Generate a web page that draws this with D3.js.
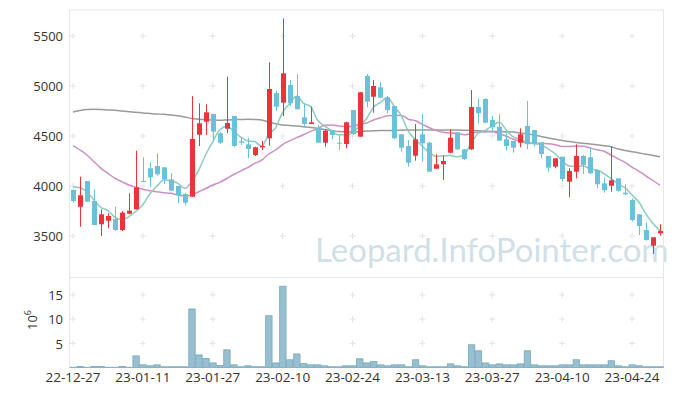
<!DOCTYPE html>
<html>
<head>
<meta charset="utf-8">
<script src="https://cdn.jsdelivr.net/npm/d3@7"></script>
<style>
  body { margin: 0; background: #fff; }
  text { font-family: "Open Sans", "DejaVu Sans", sans-serif; }
  text.watermark { font-family: Lato, "Open Sans", sans-serif; }
</style>
</head>
<body>
<div id="chart"></div>
<script>
// trading days (KRX)
var dates = ["22-12-27","22-12-28","22-12-29","23-01-02","23-01-03","23-01-04","23-01-05","23-01-06","23-01-09","23-01-10",
  "23-01-11","23-01-12","23-01-13","23-01-16","23-01-17","23-01-18","23-01-19","23-01-20","23-01-25","23-01-26",
  "23-01-27","23-01-30","23-01-31","23-02-01","23-02-02","23-02-03","23-02-06","23-02-07","23-02-08","23-02-09",
  "23-02-10","23-02-13","23-02-14","23-02-15","23-02-16","23-02-17","23-02-20","23-02-21","23-02-22","23-02-23",
  "23-02-24","23-02-27","23-02-28","23-03-02","23-03-03","23-03-06","23-03-07","23-03-08","23-03-09","23-03-10",
  "23-03-13","23-03-14","23-03-15","23-03-16","23-03-17","23-03-20","23-03-21","23-03-22","23-03-23","23-03-24",
  "23-03-27","23-03-28","23-03-29","23-03-30","23-03-31","23-04-03","23-04-04","23-04-05","23-04-06","23-04-07",
  "23-04-10","23-04-11","23-04-12","23-04-13","23-04-14","23-04-17","23-04-18","23-04-19","23-04-20","23-04-21",
  "23-04-24","23-04-25","23-04-26","23-04-27","23-04-28"];

var opens = [3960,3793,4050,3850,3617,3653,3670,3560,3723,3767,4050,4177,4200,4187,4067,4000,3920,3893,4513,4643,
  4720,4527,4573,4700,4447,4417,4310,4387,4477,4930,4833,5010,4900,4687,4620,4577,4433,4553,4433,4420,
  4760,4493,5100,4893,4987,4887,4800,4517,4400,4303,4517,4433,4173,4217,4333,4537,4367,4367,4790,4870,
  4660,4593,4467,4450,4433,4600,4560,4437,4300,4193,4293,4043,4143,4300,4287,4160,4027,4003,4077,3933,
  3860,3717,3560,3403,3527];
var highs = [3967,4093,4050,3967,3767,3727,3793,3750,3927,4353,4287,4237,4327,4187,4127,4000,3933,4900,4827,4817,
  4720,4543,5093,4700,4483,4483,4393,4450,5237,4953,5677,5060,5120,4827,4793,4610,4567,4560,4510,4643,
  4760,4937,5120,5060,5037,4900,4800,4517,4460,4620,4720,4443,4317,4303,4567,4537,4367,4960,4873,4877,
  4700,4717,4550,4450,4577,4850,4560,4437,4300,4277,4293,4177,4417,4310,4377,4160,4083,4393,4077,4017,
  3877,3717,3637,3487,3617];
var lows = [3833,3593,3843,3610,3500,3577,3550,3550,3717,3767,4040,3987,4103,4020,3953,3827,3807,3893,4400,4510,
  4460,4420,4527,4387,4410,4277,4300,4360,4403,4750,4700,4800,4767,4583,4620,4433,4393,4467,4360,4377,
  4510,4493,4787,4733,4877,4727,4467,4343,4193,4253,4243,4143,4173,4060,4327,4360,4260,4360,4627,4627,
  4533,4453,4353,4333,4387,4367,4393,4277,4143,4177,4043,3887,4077,4120,4120,3977,3933,3943,3943,3910,
  3643,3510,3453,3320,3503];
var closes = [3850,3907,3843,3610,3717,3700,3560,3733,3753,3987,4040,4087,4117,4067,3953,3910,3833,4470,4627,4737,
  4543,4433,4630,4400,4433,4370,4387,4400,4970,4793,5127,4827,4767,4620,4637,4433,4553,4510,4427,4637,
  4520,4937,4843,5000,4883,4760,4477,4383,4233,4467,4427,4143,4217,4250,4483,4367,4270,4790,4727,4633,
  4587,4453,4400,4383,4517,4417,4417,4320,4183,4277,4070,4150,4300,4210,4127,4017,3960,4057,3953,3917,
  3660,3600,3460,3487,3550];

// volume, millions of shares
var volumes = [0.05,0.2,0.05,0.2,0.2,0.05,0.05,0.2,0.05,2.4,0.55,0.35,0.55,0.15,0.15,0.15,0.15,12.1,2.6,1.85,
  0.95,0.4,3.65,0.55,0.15,0.35,0.15,0.15,10.7,0.95,16.8,1.6,2.8,0.8,0.55,0.55,0.35,0.15,0.15,0.35,
  0.35,1.8,0.95,1.25,0.55,0.35,0.55,0.55,0.15,1.6,0.35,0.15,0.15,0.15,0.75,0.35,0.15,4.7,3.45,0.95,
  0.55,0.75,0.55,0.55,0.75,3.45,0.55,0.35,0.35,0.35,0.55,0.55,1.6,0.55,0.55,0.55,0.55,1.4,0.35,0.15,
  0.55,0.35,0.15,0.15,0.15];

// moving averages as drawn
var ma5 = [3993,3983,3943,3860,3785,3755,3686,3664,3693,3747,3815,3920,3997,4060,4053,4027,3976,4047,4159,4315,
  4442,4562,4594,4549,4488,4453,4444,4398,4512,4584,4735,4823,4897,4827,4796,4657,4602,4551,4512,4512,
  4529,4606,4673,4787,4837,4885,4793,4701,4547,4464,4397,4331,4297,4301,4304,4292,4317,4432,4527,4557,
  4601,4638,4560,4491,4468,4434,4427,4411,4371,4323,4253,4200,4196,4201,4171,4161,4123,4074,4023,3981,
  3909,3837,3718,3625,3551];
var ma20 = [4403,4360,4310,4243,4177,4127,4077,4043,4010,3987,3967,3953,3943,3933,3927,3910,3900,3910,3943,3975,
  4010,4036,4075,4115,4151,4184,4226,4259,4320,4360,4414,4451,4484,4512,4546,4572,4608,4610,4600,4595,
  4594,4619,4630,4660,4682,4702,4706,4705,4668,4652,4617,4583,4555,4537,4529,4526,4512,4526,4541,4541,
  4544,4520,4498,4467,4448,4431,4428,4425,4423,4413,4395,4396,4400,4398,4380,4362,4347,4310,4272,4236,
  4189,4147,4100,4055,4007];
var ma60 = [4740,4755,4765,4768,4765,4760,4757,4750,4743,4738,4730,4725,4720,4717,4710,4703,4690,4675,4668,4663,
  4660,4657,4660,4663,4665,4667,4665,4660,4640,4622,4610,4605,4600,4593,4585,4577,4565,4555,4545,4543,
  4540,4545,4550,4553,4555,4555,4557,4558,4560,4560,4560,4560,4560,4560,4560,4560,4558,4555,4552,4548,
  4545,4545,4543,4540,4530,4520,4510,4495,4480,4467,4455,4445,4435,4428,4420,4412,4403,4393,4370,4355,
  4343,4330,4318,4305,4293];

var priceTicks = [3500, 4000, 4500, 5000, 5500];
var volumeTicks = [5, 10, 15];
var dateTicks = ["22-12-27","23-01-11","23-01-27","23-02-10","23-02-24","23-03-13","23-03-27","23-04-10","23-04-24"];

var svgWidth = 673;
var svgHeight = 396;

var left = 69.5, right = 663.5;
var mainTop = 10, mainBottom = 277.5, volBottom = 367.5;

var upColor = "#ec3338";
var downColor = "#6cc0d9";

var svg = d3.select("#chart")
  .append("svg")
  .attr("width", svgWidth)
  .attr("height", svgHeight);

var data = dates.map(function(d, i) {
  return { date: d, open: opens[i], high: highs[i], low: lows[i], close: closes[i],
    volume: volumes[i], ma5: ma5[i], ma20: ma20[i], ma60: ma60[i] };
});

// scales
var x = d3.scaleBand()
  .domain(dates)
  .range([left, right])
  .paddingInner(0.28)
  .paddingOuter(0.14);
var xc = function(d) { return x(d) + x.bandwidth() / 2; };

var y = d3.scaleLinear()
  .domain([3085, 5760])
  .range([mainBottom, mainTop]);

var yVol = d3.scaleLinear()
  .domain([0, 18.6])
  .range([volBottom, mainBottom]);

// watermark
svg.append("text")
  .attr("class", "watermark")
  .attr("x", 315)
  .attr("y", 262)
  .attr("font-size", 33)
  .attr("fill", "#d0dfe8")
  .text("Leopard.InfoPointer.com");

// grid crosses
function crosses(yScale, ticks) {
  var pts = [];
  dateTicks.forEach(function(dt) {
    ticks.forEach(function(t) { pts.push([xc(dt), yScale(t)]); });
  });
  svg.append("g")
    .selectAll("path")
    .data(pts)
    .enter()
    .append("path")
    .attr("d", function(p) {
      return "M" + (p[0] - 3) + "," + p[1] + "h6M" + p[0] + "," + (p[1] - 3) + "v6";
    })
    .attr("stroke", "#e3e3e3")
    .attr("stroke-width", 1);
}
crosses(y, priceTicks);
crosses(yVol, volumeTicks);

// frames
svg.append("path")
  .attr("d", "M" + left + "," + volBottom + "V" + mainTop + "H" + right + "V" + volBottom + "H" + left
    + "M" + left + "," + mainBottom + "H" + right)
  .attr("fill", "none")
  .attr("stroke", "#e6e6e6");

// moving averages
var lineOf = function(key) {
  return d3.line()
    .x(function(d) { return xc(d.date); })
    .y(function(d) { return y(d[key]); })
    .curve(d3.curveMonotoneX);
};
[["ma60", "#9a9a9a"], ["ma20", "#cc8fc6"], ["ma5", "#8ccbbf"]].forEach(function(m) {
  svg.append("path")
    .datum(data)
    .attr("d", lineOf(m[0]))
    .attr("fill", "none")
    .attr("stroke", m[1])
    .attr("stroke-width", 1.5);
});

// candles
var candles = svg.append("g")
  .selectAll("g")
  .data(data)
  .enter()
  .append("g");

candles.append("line")
  .attr("x1", d => Math.round(xc(d.date)) + 0.5)
  .attr("x2", d => Math.round(xc(d.date)) + 0.5)
  .attr("y1", d => y(d.high))
  .attr("y2", d => y(d.low))
  .attr("stroke", d => d.close >= d.open ? upColor : downColor)
  .attr("stroke-width", 1);

candles.append("rect")
  .attr("x", d => Math.round(xc(d.date)) + 0.5 - x.bandwidth() / 2)
  .attr("width", x.bandwidth())
  .attr("y", d => y(Math.max(d.open, d.close)))
  .attr("height", d => Math.max(1, Math.abs(y(d.open) - y(d.close))))
  .attr("fill", d => d.close >= d.open ? upColor : downColor);

// volume bars
svg.append("g")
  .selectAll("rect")
  .data(data)
  .enter()
  .append("rect")
  .attr("x", d => x(d.date) - x.step() * 0.14 + 0.5)
  .attr("width", x.step() - 0.6)
  .attr("y", d => yVol(d.volume))
  .attr("height", d => volBottom - yVol(d.volume))
  .attr("fill", "#97bfcf")
  .attr("stroke", "#77a8bc")
  .attr("stroke-width", 0.8);

// axis labels
svg.append("g")
  .selectAll("text")
  .data(priceTicks)
  .enter()
  .append("text")
  .attr("x", 63)
  .attr("y", d => y(d))
  .attr("dy", "0.35em")
  .attr("text-anchor", "end")
  .attr("font-size", 13)
  .attr("fill", "#333")
  .text(d => d);

svg.append("g")
  .selectAll("text")
  .data(volumeTicks)
  .enter()
  .append("text")
  .attr("x", 63)
  .attr("y", d => yVol(d))
  .attr("dy", "0.4em")
  .attr("text-anchor", "end")
  .attr("font-size", 13)
  .attr("fill", "#333")
  .text(d => d);

var unit = svg.append("text")
  .attr("transform", "translate(37,320) rotate(-90)")
  .attr("text-anchor", "middle")
  .attr("font-size", 13)
  .attr("fill", "#333");
unit.append("tspan").text("10");
unit.append("tspan").attr("font-size", 9).attr("dy", -6).text("6");

svg.append("g")
  .selectAll("text")
  .data(dateTicks)
  .enter()
  .append("text")
  .attr("x", d => xc(d))
  .attr("y", 382)
  .attr("text-anchor", "middle")
  .attr("font-size", 13.5)
  .attr("fill", "#333")
  .text(d => d);
</script>
</body>
</html>
